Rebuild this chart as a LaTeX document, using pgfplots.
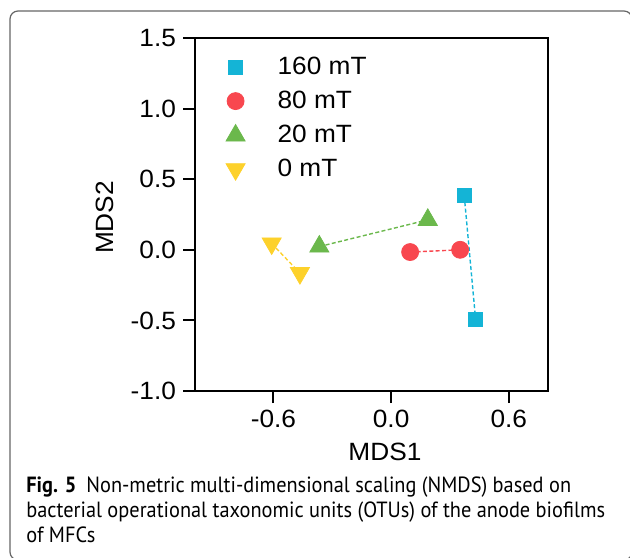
\documentclass[border=0pt]{standalone}
\usepackage{pgfplots}
\pgfplotsset{compat=1.18}
\usepackage{fontspec}
\setmainfont[FakeStretch=1.05]{Liberation Sans}
\newfontfamily\capfont[FakeStretch=0.925]{PT Sans}
\definecolor{cA}{HTML}{14B4D6}
\definecolor{cB}{HTML}{F8474F}
\definecolor{cC}{HTML}{6BB84C}
\definecolor{cD}{HTML}{FDD12B}
\begin{document}
\begin{tikzpicture}
\draw[gray!80!black, line width=0.6pt, rounded corners=4pt] (5pt,-1.5pt) rectangle (316pt,273pt);
\begin{axis}[
  at={(97.5pt,83pt)}, anchor=south west,
  scale only axis, width=176.5pt, height=176.5pt,
  xmin=-1.0, xmax=0.8, ymin=-1.0, ymax=1.5,
  xtick={-0.6,0,0.6}, ytick={-1,-0.5,0,0.5,1,1.5},
  xticklabels={-0.6,0.0,0.6},
  yticklabels={-1.0,-0.5,0.0,0.5,1.0,1.5},
  axis line style={line width=1pt},
  tick style={line width=1pt, black},
  tick align=outside, major tick length=6pt,
  xtick pos=bottom, ytick pos=left,
  ticklabel style={font=\fontsize{12.5}{14}\selectfont},
  xlabel={MDS1}, ylabel={MDS2},
  label style={font=\fontsize{12.5}{14}\selectfont},
  xlabel style={at={(axis description cs:0.538,-0.145)}, anchor=north, inner sep=0pt},
  ylabel style={at={(axis description cs:-0.255,0.4915)}, anchor=center, inner sep=0pt},
  legend style={at={(rel axis cs:0.0685,0.958)}, anchor=north west, draw=none, fill=none,
    font=\fontsize{12.5}{14}\selectfont, row sep=6.6pt, column sep=16pt,
    nodes={inner sep=0pt}},
  legend cell align=left,
]
\pgfplotsset{myleg/.style={legend image code/.code={\path[draw=none,fill=none] (-5pt,-0.1pt) rectangle (5pt,0.1pt); \path[##1] plot coordinates {(0pt,0pt)};}}}
% connecting lines
\addplot[forget plot, cA, line width=0.7pt, dash pattern=on 2pt off 1.2pt] coordinates {(0.373,0.382) (0.431,-0.496)};
\addplot[forget plot, cB, line width=0.7pt, dash pattern=on 2pt off 1.2pt] coordinates {(0.097,-0.016) (0.352,0.0)};
\addplot[forget plot, cC, line width=0.7pt, dash pattern=on 2pt off 1.2pt] coordinates {(-0.366,0.023) (0.187,0.212)};
\addplot[forget plot, cD, line width=0.7pt, dash pattern=on 2pt off 1.2pt] coordinates {(-0.609,0.045) (-0.465,-0.165)};
% markers
\addplot[only marks, myleg, mark=square*, mark size=3.5pt, color=cA, mark options={draw=cA, fill=cA}] coordinates {(0.373,0.382) (0.431,-0.496)};
\addlegendentry{160 mT}
\addplot[only marks, myleg, mark=*, mark size=4.25pt, color=cB, mark options={draw=cB, fill=cB}] coordinates {(0.097,-0.016) (0.352,0.0)};
\addlegendentry{80 mT}
\addplot[only marks, myleg, mark=triangle*, mark size=5.5pt, color=cC, mark options={draw=cC, fill=cC}] coordinates {(-0.366,0.023) (0.187,0.212)};
\addlegendentry{20 mT}
\addplot[only marks, myleg, mark=triangle*, mark size=5.5pt, color=cD, mark options={draw=cD, fill=cD, rotate=180}] coordinates {(-0.609,0.045) (-0.465,-0.165)};
\addlegendentry{0 mT}
\end{axis}
\node[anchor=base west, inner sep=0pt, font=\capfont\fontsize{11}{13}\selectfont] at (13pt,32.5pt) {\textbf{Fig. 5}\hspace{0.45em}Non-metric multi-dimensional scaling (NMDS) based on};
\node[anchor=base west, inner sep=0pt, font=\capfont\fontsize{11}{13}\selectfont] at (13pt,20pt) {bacterial operational taxonomic units (OTUs) of the anode biofilms};
\node[anchor=base west, inner sep=0pt, font=\capfont\fontsize{11}{13}\selectfont] at (13pt,7.5pt) {of MFCs};
\pgfresetboundingbox
\useasboundingbox (0pt,0pt) rectangle (315pt,278.5pt);
\end{tikzpicture}
\end{document}
